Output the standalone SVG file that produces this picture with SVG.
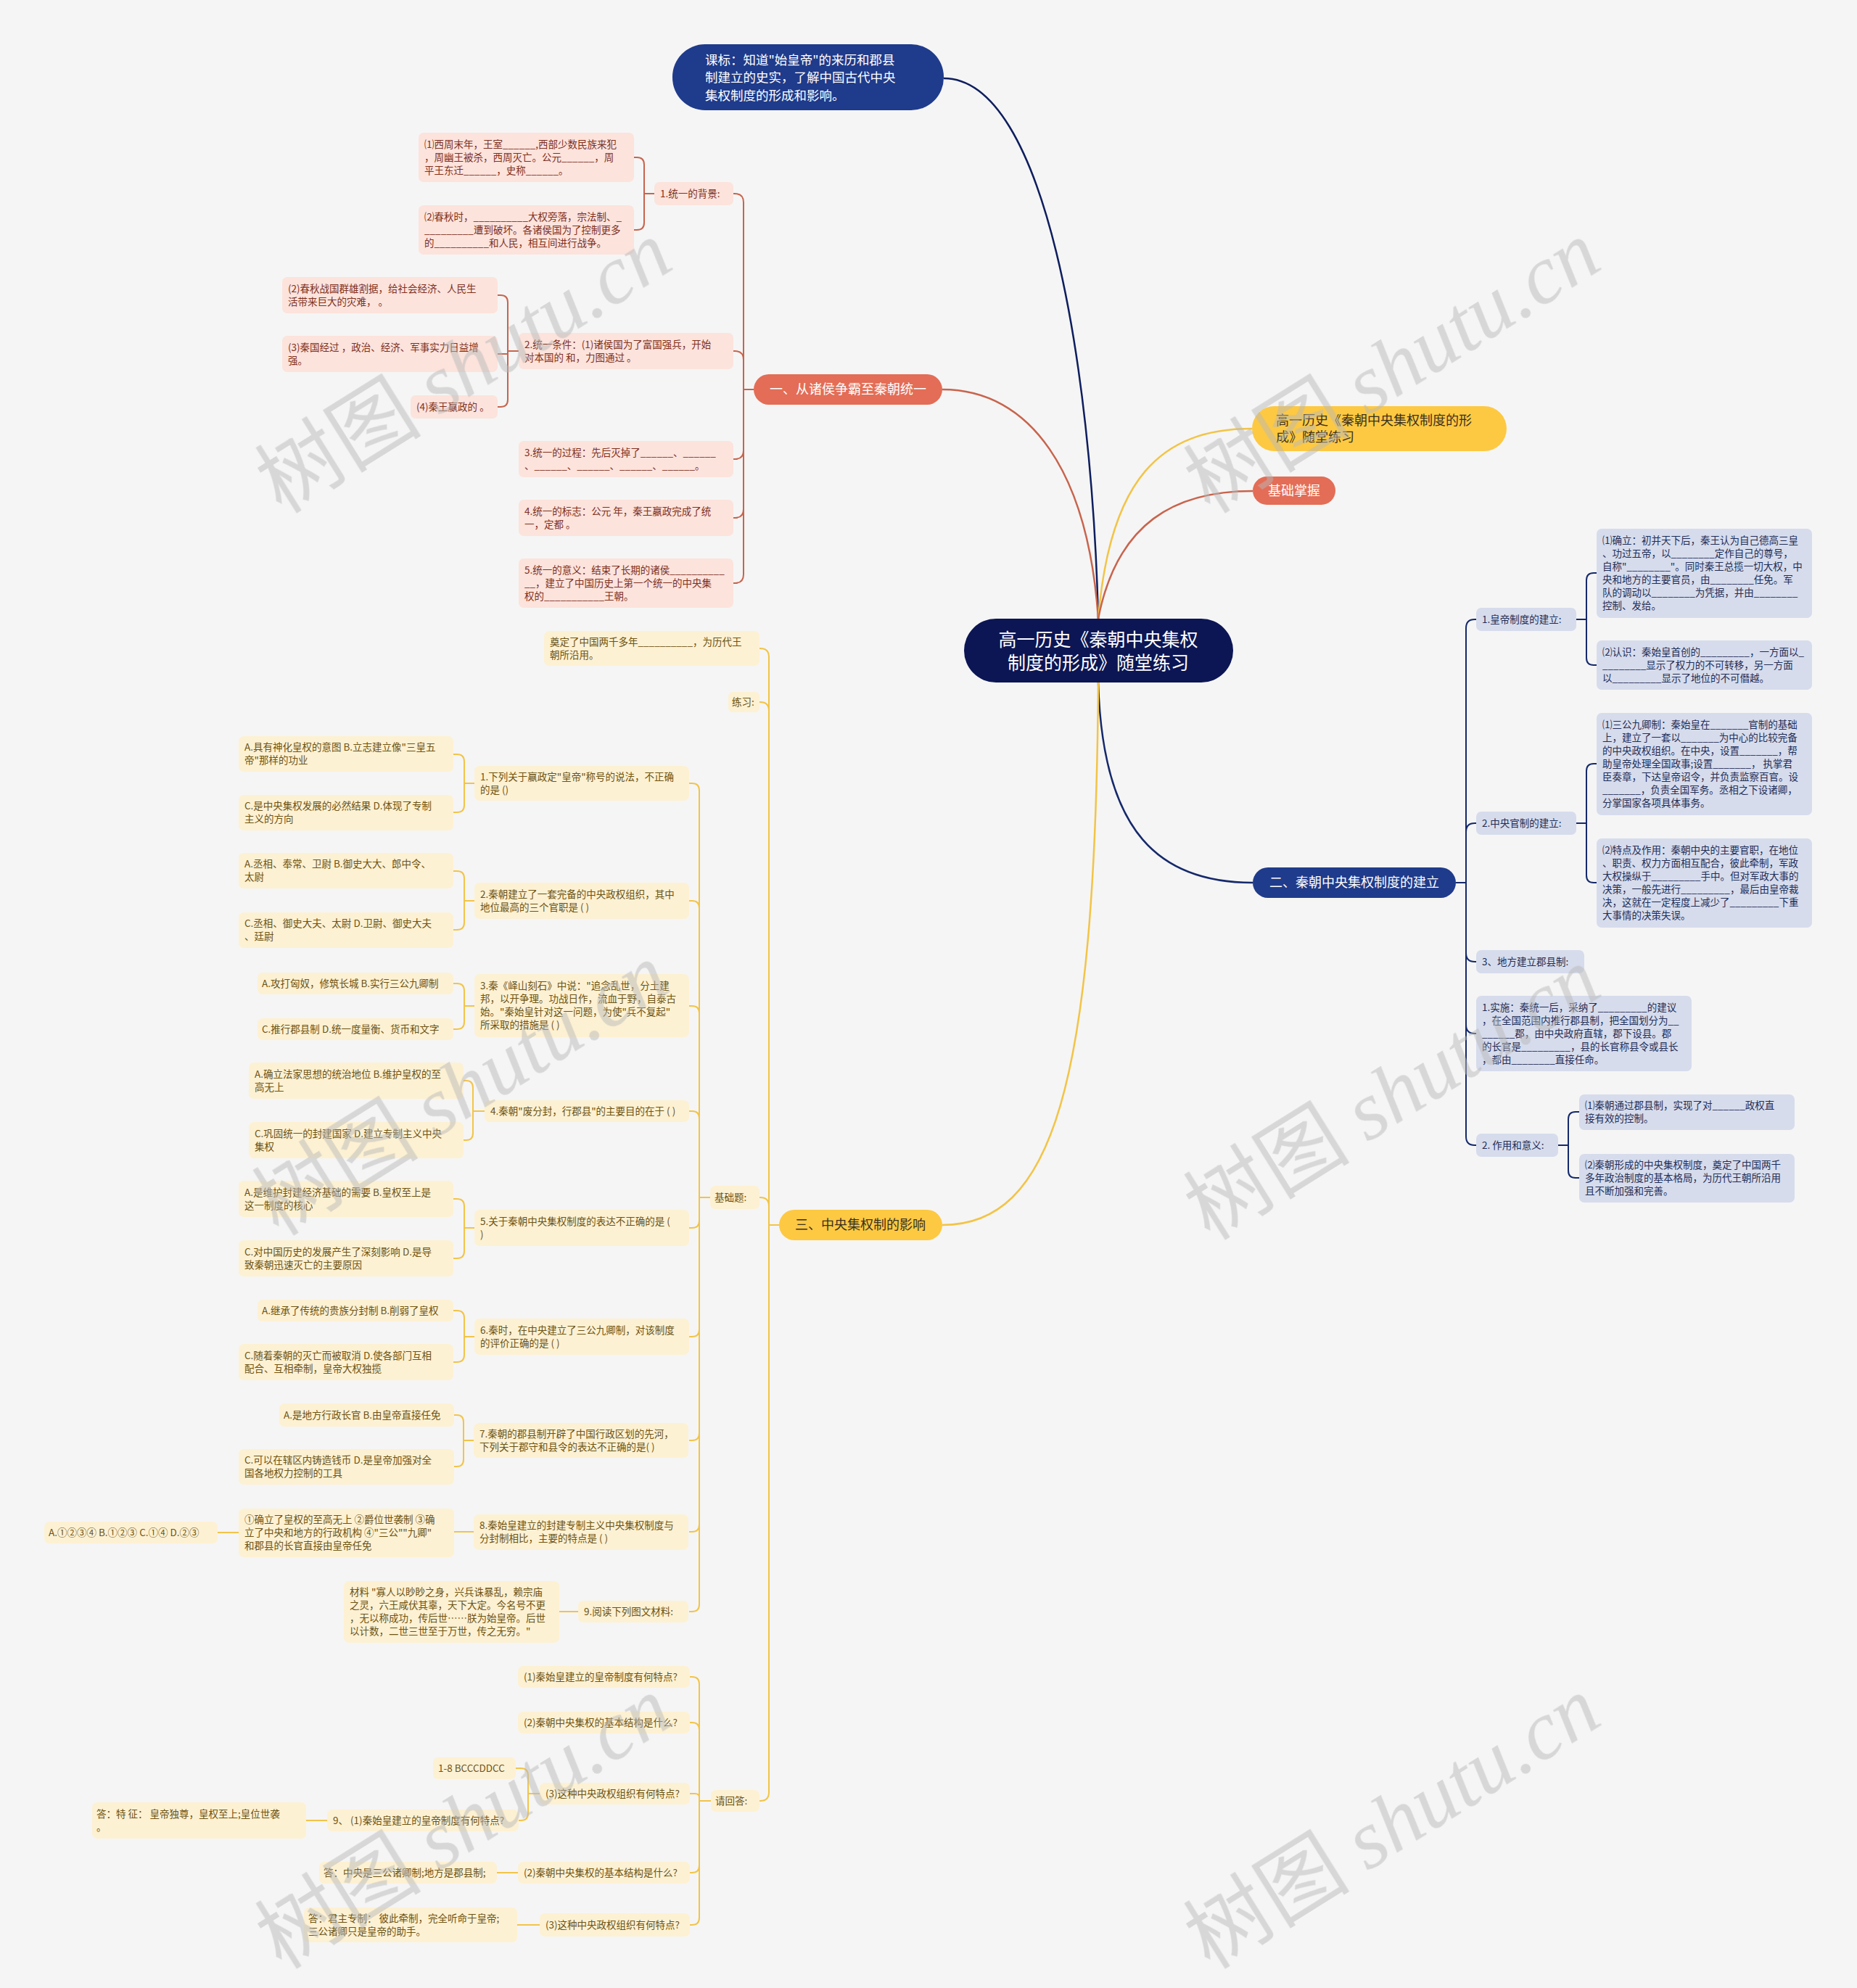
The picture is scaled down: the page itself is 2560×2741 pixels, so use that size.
<svg xmlns="http://www.w3.org/2000/svg" width="2560" height="2741" viewBox="0 0 2560 2741">
<style>
text{font-family:'Noto Sans CJK SC','Noto Sans',sans-serif;}
.t{font-size:13.5px}
.b1{fill:#fce3dc}.x1{fill:#7e301e}
.b2{fill:#d6dcec}.x2{fill:#1f2d57}
.b3{fill:#fdf1d3}.x3{fill:#6c5313}
.k1{fill:none;stroke:#c8644d;stroke-width:2}
.k2{fill:none;stroke:#15296b;stroke-width:2}
.k3{fill:none;stroke:#f2c447;stroke-width:2}
.m{fill:none;stroke-width:2.5}
.wm{font-size:115px;fill:#b9b9b9;opacity:0.5}
.big{font-size:18px}
</style>
<rect width="2560" height="2741" fill="#f5f5f5"/>

<g id="connectors">
<path class="m" stroke="#0e1e5e" d="M1301 108 C1440 108 1505 500 1514 853"/>
<path class="m" stroke="#c8644d" d="M1299 537 C1420 537 1500 650 1514 853"/>
<path class="m" stroke="#f2c447" d="M1514 853 C1530 660 1600 591 1726 591"/>
<path class="m" stroke="#c8644d" d="M1514 853 C1540 720 1620 677 1727 677"/>
<path class="m" stroke="#15296b" d="M1514 941 C1520 1150 1600 1217 1727 1217"/>
<path class="m" stroke="#f2c447" d="M1514 941 C1510 1500 1450 1689 1299 1689"/>
<!-- section 1 -->
<path class="k1" d="M1039 537 H1025 V279 Q1025 267 1013 267 H1011"/>
<path class="k1" d="M1039 537 H1025 V496 Q1025 484 1013 484 H1011"/>
<path class="k1" d="M1039 537 H1025 V621 Q1025 633 1013 633 H1011"/>
<path class="k1" d="M1039 537 H1025 V702 Q1025 714 1013 714 H1011"/>
<path class="k1" d="M1039 537 H1025 V792 Q1025 804 1013 804 H1011"/>
<path class="k1" d="M902 267 H888 V227 Q888 217 878 217 H874"/>
<path class="k1" d="M902 267 H888 V307 Q888 317 878 317 H874"/>
<path class="k1" d="M715 484 H700 V417 Q700 407 690 407 H686"/>
<path class="k1" d="M715 484 H700 V488 H686"/>
<path class="k1" d="M715 484 H700 V551 Q700 561 690 561 H686"/>
<!-- section 2 -->
<path class="k2" d="M2007 1217 H2021 V866 Q2021 854 2033 854 H2035"/>
<path class="k2" d="M2007 1217 H2021 V1147 Q2021 1135 2033 1135 H2035"/>
<path class="k2" d="M2007 1217 H2021 V1314 Q2021 1326 2033 1326 H2035"/>
<path class="k2" d="M2007 1217 H2021 V1413 Q2021 1425 2033 1425 H2035"/>
<path class="k2" d="M2007 1217 H2021 V1567 Q2021 1579 2033 1579 H2035"/>
<path class="k2" d="M2173 854 H2187 V800 Q2187 790 2197 790 H2201"/>
<path class="k2" d="M2173 854 H2187 V907 Q2187 917 2197 917 H2201"/>
<path class="k2" d="M2173 1135 H2187 V1063 Q2187 1053 2197 1053 H2201"/>
<path class="k2" d="M2173 1135 H2187 V1207 Q2187 1217 2197 1217 H2201"/>
<path class="k2" d="M2148 1579 H2162 V1543 Q2162 1533 2172 1533 H2177"/>
<path class="k2" d="M2148 1579 H2162 V1614 Q2162 1624 2172 1624 H2177"/>
<!-- section 3 -->
<path class="k3" d="M1074 1689 H1060 V906 Q1060 894 1048 894 H1047"/>
<path class="k3" d="M1074 1689 H1060 V980 Q1060 968 1048 968 H1047"/>
<path class="k3" d="M1074 1689 H1060 V1663 Q1060 1651 1048 1651 H1047"/>
<path class="k3" d="M1074 1689 H1060 V2471 Q1060 2483 1048 2483 H1047"/>
<path class="k3" d="M979 1651 H964 V1090 Q964 1080 954 1080 H950"/>
<path class="k3" d="M979 1651 H964 V1252 Q964 1242 954 1242 H950"/>
<path class="k3" d="M979 1651 H964 V1397 Q964 1387 954 1387 H950"/>
<path class="k3" d="M979 1651 H964 V1542 Q964 1532 954 1532 H950"/>
<path class="k3" d="M979 1651 H964 V1683 Q964 1693 954 1693 H950"/>
<path class="k3" d="M979 1651 H964 V1833 Q964 1843 954 1843 H950"/>
<path class="k3" d="M979 1651 H964 V1976 Q964 1986 954 1986 H950"/>
<path class="k3" d="M979 1651 H964 V2102 Q964 2112 954 2112 H950"/>
<path class="k3" d="M979 1651 H964 V2212 Q964 2222 954 2222 H950"/>
<path class="k3" d="M654 1080 H640 V1050 Q640 1040 630 1040 H625"/>
<path class="k3" d="M654 1080 H640 V1110 Q640 1120 630 1120 H625"/>
<path class="k3" d="M654 1242 H640 V1211 Q640 1201 630 1201 H625"/>
<path class="k3" d="M654 1242 H640 V1272 Q640 1282 630 1282 H625"/>
<path class="k3" d="M654 1387 H640 V1366 Q640 1356 630 1356 H625"/>
<path class="k3" d="M654 1387 H640 V1409 Q640 1419 630 1419 H625"/>
<path class="k3" d="M668 1532 H652 V1500 Q652 1490 643 1490 H639"/>
<path class="k3" d="M668 1532 H652 V1562 Q652 1572 643 1572 H639"/>
<path class="k3" d="M654 1693 H640 V1663 Q640 1653 630 1653 H625"/>
<path class="k3" d="M654 1693 H640 V1725 Q640 1735 630 1735 H625"/>
<path class="k3" d="M654 1843 H640 V1817 Q640 1807 630 1807 H625"/>
<path class="k3" d="M654 1843 H640 V1868 Q640 1878 630 1878 H625"/>
<path class="k3" d="M653 1986 H639 V1961 Q639 1951 630 1951 H626"/>
<path class="k3" d="M653 1986 H639 V2012 Q639 2022 630 2022 H626"/>
<path class="k3" d="M653 2112 H626"/>
<path class="k3" d="M329 2113 H300"/>
<path class="k3" d="M797 2222 H771"/>
<path class="k3" d="M980 2483 H964 V2322 Q964 2312 954 2312 H951"/>
<path class="k3" d="M980 2483 H964 V2385 Q964 2375 954 2375 H951"/>
<path class="k3" d="M980 2483 H964 V2478 Q964 2473 958 2473 H951"/>
<path class="k3" d="M980 2483 H964 V2572 Q964 2582 954 2582 H951"/>
<path class="k3" d="M980 2483 H964 V2644 Q964 2654 954 2654 H951"/>
<path class="k3" d="M744 2473 H728 V2448 Q728 2438 718 2438 H711"/>
<path class="k3" d="M744 2473 H728 V2500 Q728 2510 718 2510 H715"/>
<path class="k3" d="M451 2510 H422"/>
<path class="k3" d="M714 2582 H685"/>
<path class="k3" d="M744 2654 H713"/>
</g>

<!-- main nodes -->
<g id="center"><rect x="1329" y="853" width="371" height="88" rx="44" fill="#0c1654"/>
<text x="1514" y="891" font-size="25" fill="#fff" text-anchor="middle">高一历史《秦朝中央集权</text>
<text x="1514" y="923" font-size="25" fill="#fff" text-anchor="middle">制度的形成》随堂练习</text></g>
<g id="kebiao"><rect x="927" y="61" width="374" height="91" rx="45" fill="#1f3b8b"/>
<text x="972" y="89" font-size="17.5" fill="#fff">课标：知道"始皇帝"的来历和郡县</text>
<text x="972" y="113" font-size="17.5" fill="#fff">制建立的史实，了解中国古代中央</text>
<text x="972" y="138" font-size="17.5" fill="#fff">集权制度的形成和影响。</text></g>
<g id="sec1"><rect x="1039" y="516" width="260" height="42" rx="21" fill="#e36d56"/>
<text class="big" x="1169" y="543" fill="#fff" text-anchor="middle">一、从诸侯争霸至秦朝统一</text></g>
<g id="titleY"><rect x="1726" y="560" width="351" height="62" rx="31" fill="#fdc942"/>
<text class="big" x="1759" y="586" fill="#3a3020">高一历史《秦朝中央集权制度的形</text>
<text class="big" x="1759" y="609" fill="#3a3020">成》随堂练习</text></g>
<g id="jichu"><rect x="1727" y="657" width="114" height="39" rx="19.5" fill="#e36d56"/>
<text class="big" x="1784" y="683" fill="#fff" text-anchor="middle">基础掌握</text></g>
<g id="sec2"><rect x="1727" y="1196" width="280" height="42" rx="21" fill="#1f3b8b"/>
<text class="big" x="1867" y="1223" fill="#fff" text-anchor="middle">二、秦朝中央集权制度的建立</text></g>
<g id="sec3"><rect x="1074" y="1668" width="225" height="42" rx="21" fill="#fdc942"/>
<text class="big" x="1186" y="1695" fill="#3a3020" text-anchor="middle">三、中央集权制的影响</text></g>

<g class="t">
<!-- section 1 children -->
<g id="a1"><rect class="b1" x="902" y="251" width="109" height="32" rx="7"/><text class="x1" x="910" y="272">1.统一的背景:</text></g>
<g id="a1c1"><rect class="b1" x="577" y="183" width="297" height="68" rx="7"/><text class="x1" x="585" y="204">⑴西周末年，王室______,西部少数民族来犯</text><text class="x1" x="585" y="222">，周幽王被杀，西周灭亡。公元______，周</text><text class="x1" x="585" y="240">平王东迁______，史称______。</text></g>
<g id="a1c2"><rect class="b1" x="577" y="283" width="297" height="68" rx="7"/><text class="x1" x="585" y="304">⑵春秋时，__________大权旁落，宗法制、_</text><text class="x1" x="585" y="322">_________遭到破坏。各诸侯国为了控制更多</text><text class="x1" x="585" y="340">的__________和人民，相互间进行战争。</text></g>
<g id="a2"><rect class="b1" x="715" y="459" width="296" height="50" rx="7"/><text class="x1" x="723" y="480">2.统一条件：(1)诸侯国为了富国强兵，开始</text><text class="x1" x="723" y="498">对本国的 和，力图通过 。</text></g>
<g id="a2c1"><rect class="b1" x="389" y="382" width="297" height="50" rx="7"/><text class="x1" x="397" y="403">(2)春秋战国群雄割据，给社会经济、人民生</text><text class="x1" x="397" y="421">活带来巨大的灾难， 。</text></g>
<g id="a2c2"><rect class="b1" x="389" y="463" width="297" height="50" rx="7"/><text class="x1" x="397" y="484">(3)秦国经过 ，政治、经济、军事实力日益增</text><text class="x1" x="397" y="502">强。</text></g>
<g id="a2c3"><rect class="b1" x="566" y="545" width="120" height="32" rx="7"/><text class="x1" x="574" y="566">(4)秦王嬴政的 。</text></g>
<g id="a3"><rect class="b1" x="715" y="608" width="296" height="50" rx="7"/><text class="x1" x="723" y="629">3.统一的过程：先后灭掉了______、______</text><text class="x1" x="723" y="647">、______、______、______、______。</text></g>
<g id="a4"><rect class="b1" x="715" y="689" width="296" height="50" rx="7"/><text class="x1" x="723" y="710">4.统一的标志：公元 年，秦王嬴政完成了统</text><text class="x1" x="723" y="728">一，定都 。</text></g>
<g id="a5"><rect class="b1" x="715" y="770" width="296" height="68" rx="7"/><text class="x1" x="723" y="791">5.统一的意义：结束了长期的诸侯__________</text><text class="x1" x="723" y="809">__，建立了中国历史上第一个统一的中央集</text><text class="x1" x="723" y="827">权的___________王朝。</text></g>

<!-- section 2 children -->
<g id="b1"><rect class="b2" x="2035" y="838" width="138" height="32" rx="7"/><text class="x2" x="2043" y="859">1.皇帝制度的建立:</text></g>
<g id="b1c1"><rect class="b2" x="2201" y="729" width="297" height="123" rx="7"/><text class="x2" x="2209" y="750">⑴确立：初并天下后，秦王认为自己德高三皇</text><text class="x2" x="2209" y="768">、功过五帝，以________定作自己的尊号，</text><text class="x2" x="2209" y="786">自称"________"。同时秦王总揽一切大权，中</text><text class="x2" x="2209" y="804">央和地方的主要官员，由________任免。军</text><text class="x2" x="2209" y="822">队的调动以________为凭据，并由________</text><text class="x2" x="2209" y="840">控制、发给。</text></g>
<g id="b1c2"><rect class="b2" x="2201" y="883" width="297" height="68" rx="7"/><text class="x2" x="2209" y="904">⑵认识：秦始皇首创的_________，一方面以_</text><text class="x2" x="2209" y="922">________显示了权力的不可转移，另一方面</text><text class="x2" x="2209" y="940">以_________显示了地位的不可僭越。</text></g>
<g id="b2"><rect class="b2" x="2035" y="1119" width="138" height="32" rx="7"/><text class="x2" x="2043" y="1140">2.中央官制的建立:</text></g>
<g id="b2c1"><rect class="b2" x="2201" y="983" width="297" height="141" rx="7"/><text class="x2" x="2209" y="1004">⑴三公九卿制：秦始皇在_______官制的基础</text><text class="x2" x="2209" y="1022">上，建立了一套以_______为中心的比较完备</text><text class="x2" x="2209" y="1040">的中央政权组织。在中央，设置_______，帮</text><text class="x2" x="2209" y="1058">助皇帝处理全国政事;设置_______， 执掌君</text><text class="x2" x="2209" y="1076">臣奏章，下达皇帝诏令，并负责监察百官。设</text><text class="x2" x="2209" y="1094">_______，负责全国军务。丞相之下设诸卿，</text><text class="x2" x="2209" y="1112">分掌国家各项具体事务。</text></g>
<g id="b2c2"><rect class="b2" x="2201" y="1156" width="297" height="123" rx="7"/><text class="x2" x="2209" y="1177">⑵特点及作用：秦朝中央的主要官职，在地位</text><text class="x2" x="2209" y="1195">、职责、权力方面相互配合，彼此牵制，军政</text><text class="x2" x="2209" y="1213">大权操纵于_________手中。但对军政大事的</text><text class="x2" x="2209" y="1231">决策，一般先进行_________，最后由皇帝裁</text><text class="x2" x="2209" y="1249">决，这就在一定程度上减少了_________下重</text><text class="x2" x="2209" y="1267">大事情的决策失误。</text></g>
<g id="b3"><rect class="b2" x="2035" y="1310" width="149" height="32" rx="7"/><text class="x2" x="2043" y="1331">3、地方建立郡县制:</text></g>
<g id="b4"><rect class="b2" x="2035" y="1373" width="297" height="104" rx="7"/><text class="x2" x="2043" y="1394">1.实施：秦统一后，采纳了_________的建议</text><text class="x2" x="2043" y="1412">，在全国范围内推行郡县制，把全国划分为__</text><text class="x2" x="2043" y="1430">______郡，由中央政府直辖，郡下设县。郡</text><text class="x2" x="2043" y="1448">的长官是_________，县的长官称县令或县长</text><text class="x2" x="2043" y="1466">，都由________直接任命。</text></g>
<g id="b5"><rect class="b2" x="2035" y="1563" width="113" height="32" rx="7"/><text class="x2" x="2043" y="1584">2. 作用和意义:</text></g>
<g id="b5c1"><rect class="b2" x="2177" y="1509" width="297" height="49" rx="7"/><text class="x2" x="2185" y="1529">⑴秦朝通过郡县制，实现了对______政权直</text><text class="x2" x="2185" y="1547">接有效的控制。</text></g>
<g id="b5c2"><rect class="b2" x="2177" y="1591" width="297" height="67" rx="7"/><text class="x2" x="2185" y="1611">⑵秦朝形成的中央集权制度，奠定了中国两千</text><text class="x2" x="2185" y="1629">多年政治制度的基本格局，为历代王朝所沿用</text><text class="x2" x="2185" y="1647">且不断加强和完善。</text></g>

<!-- section 3 children -->
<g id="c0"><rect class="b3" x="750" y="870" width="297" height="48" rx="7"/><text class="x3" x="758" y="890">奠定了中国两千多年__________，为历代王</text><text class="x3" x="758" y="908">朝所沿用。</text></g>
<g id="c1"><rect class="b3" x="1004" y="954" width="43" height="28" rx="6"/><text class="x3" x="1009" y="973">练习:</text></g>
<g id="c2"><rect class="b3" x="979" y="1635" width="68" height="32" rx="7"/><text class="x3" x="985" y="1656">基础题:</text></g>
<g id="c3"><rect class="b3" x="980" y="2468" width="67" height="30" rx="7"/><text class="x3" x="986" y="2488">请回答:</text></g>

<g id="q1"><rect class="b3" x="654" y="1056" width="296" height="48" rx="7"/><text class="x3" x="662" y="1076">1.下列关于嬴政定"皇帝"称号的说法，不正确</text><text class="x3" x="662" y="1094">的是 ()</text></g>
<g id="q1a"><rect class="b3" x="329" y="1015" width="296" height="49" rx="7"/><text class="x3" x="337" y="1035">A.具有神化皇权的意图 B.立志建立像"三皇五</text><text class="x3" x="337" y="1053">帝"那样的功业</text></g>
<g id="q1c"><rect class="b3" x="329" y="1096" width="296" height="49" rx="7"/><text class="x3" x="337" y="1116">C.是中央集权发展的必然结果 D.体现了专制</text><text class="x3" x="337" y="1134">主义的方向</text></g>

<g id="q2"><rect class="b3" x="654" y="1217" width="296" height="50" rx="7"/><text class="x3" x="662" y="1238">2.秦朝建立了一套完备的中央政权组织，其中</text><text class="x3" x="662" y="1256">地位最高的三个官职是 ( )</text></g>
<g id="q2a"><rect class="b3" x="329" y="1176" width="296" height="49" rx="7"/><text class="x3" x="337" y="1196">A.丞相、奉常、卫尉 B.御史大大、郎中令、</text><text class="x3" x="337" y="1214">太尉</text></g>
<g id="q2c"><rect class="b3" x="329" y="1258" width="296" height="49" rx="7"/><text class="x3" x="337" y="1278">C.丞相、御史大夫、太尉 D.卫尉、御史大夫</text><text class="x3" x="337" y="1296">、廷尉</text></g>

<g id="q3"><rect class="b3" x="654" y="1343" width="296" height="87" rx="7"/><text class="x3" x="662" y="1364">3.秦《峄山刻石》中说："追念乱世，分土建</text><text class="x3" x="662" y="1382">邦，以开争理。功战日作，流血于野，自泰古</text><text class="x3" x="662" y="1400">始。"秦始皇针对这一问题，为使"兵不复起"</text><text class="x3" x="662" y="1418">所采取的措施是 ( )</text></g>
<g id="q3a"><rect class="b3" x="355" y="1341" width="270" height="30" rx="7"/><text class="x3" x="361" y="1361">A.攻打匈奴，修筑长城 B.实行三公九卿制</text></g>
<g id="q3c"><rect class="b3" x="355" y="1404" width="270" height="30" rx="7"/><text class="x3" x="361" y="1424">C.推行郡县制 D.统一度量衡、货币和文字</text></g>

<g id="q4"><rect class="b3" x="668" y="1517" width="282" height="30" rx="7"/><text class="x3" x="676" y="1537">4.秦朝"废分封，行郡县"的主要目的在于 ( )</text></g>
<g id="q4a"><rect class="b3" x="343" y="1465" width="296" height="50" rx="7"/><text class="x3" x="351" y="1486">A.确立法家思想的统治地位 B.维护皇权的至</text><text class="x3" x="351" y="1504">高无上</text></g>
<g id="q4c"><rect class="b3" x="343" y="1547" width="296" height="50" rx="7"/><text class="x3" x="351" y="1568">C.巩固统一的封建国家 D.建立专制主义中央</text><text class="x3" x="351" y="1586">集权</text></g>

<g id="q5"><rect class="b3" x="654" y="1668" width="296" height="50" rx="7"/><text class="x3" x="662" y="1689">5.关于秦朝中央集权制度的表达不正确的是 (</text><text class="x3" x="662" y="1707">)</text></g>
<g id="q5a"><rect class="b3" x="329" y="1628" width="296" height="50" rx="7"/><text class="x3" x="337" y="1649">A.是维护封建经济基础的需要 B.皇权至上是</text><text class="x3" x="337" y="1667">这一制度的核心</text></g>
<g id="q5c"><rect class="b3" x="329" y="1710" width="296" height="50" rx="7"/><text class="x3" x="337" y="1731">C.对中国历史的发展产生了深刻影响 D.是导</text><text class="x3" x="337" y="1749">致秦朝迅速灭亡的主要原因</text></g>

<g id="q6"><rect class="b3" x="654" y="1818" width="296" height="50" rx="7"/><text class="x3" x="662" y="1839">6.秦时，在中央建立了三公九卿制，对该制度</text><text class="x3" x="662" y="1857">的评价正确的是 ( )</text></g>
<g id="q6a"><rect class="b3" x="355" y="1792" width="270" height="30" rx="7"/><text class="x3" x="361" y="1812">A.继承了传统的贵族分封制 B.削弱了皇权</text></g>
<g id="q6c"><rect class="b3" x="329" y="1853" width="296" height="50" rx="7"/><text class="x3" x="337" y="1874">C.随着秦朝的灭亡而被取消 D.使各部门互相</text><text class="x3" x="337" y="1892">配合、互相牵制，皇帝大权独揽</text></g>

<g id="q7"><rect class="b3" x="653" y="1962" width="296" height="48" rx="7"/><text class="x3" x="661" y="1982">7.秦朝的郡县制开辟了中国行政区划的先河，</text><text class="x3" x="661" y="2000">下列关于郡守和县令的表达不正确的是( )</text></g>
<g id="q7a"><rect class="b3" x="385" y="1935" width="241" height="32" rx="7"/><text class="x3" x="391" y="1956">A.是地方行政长官 B.由皇帝直接任免</text></g>
<g id="q7c"><rect class="b3" x="329" y="1998" width="297" height="49" rx="7"/><text class="x3" x="337" y="2018">C.可以在辖区内铸造钱币 D.是皇帝加强对全</text><text class="x3" x="337" y="2036">国各地权力控制的工具</text></g>

<g id="q8"><rect class="b3" x="653" y="2088" width="296" height="49" rx="7"/><text class="x3" x="661" y="2108">8.秦始皇建立的封建专制主义中央集权制度与</text><text class="x3" x="661" y="2126">分封制相比，主要的特点是 ( )</text></g>
<g id="q8c"><rect class="b3" x="329" y="2080" width="297" height="67" rx="7"/><text class="x3" x="337" y="2100">①确立了皇权的至高无上 ②爵位世袭制 ③确</text><text class="x3" x="337" y="2118">立了中央和地方的行政机构 ④"三公""九卿"</text><text class="x3" x="337" y="2136">和郡县的长官直接由皇帝任免</text></g>
<g id="q8a"><rect class="b3" x="61" y="2098" width="239" height="30" rx="7"/><text class="x3" x="67" y="2118">A.①②③④ B.①②③ C.①④  D.②③</text></g>

<g id="q9"><rect class="b3" x="797" y="2207" width="152" height="30" rx="7"/><text class="x3" x="805" y="2227">9.阅读下列图文材料:</text></g>
<g id="q9m"><rect class="b3" x="474" y="2180" width="297" height="85" rx="7"/><text class="x3" x="482" y="2200">材料 "寡人以眇眇之身，兴兵诛暴乱，赖宗庙</text><text class="x3" x="482" y="2218">之灵，六王咸伏其辜，天下大定。今名号不更</text><text class="x3" x="482" y="2236">，无以称成功，传后世……朕为始皇帝。后世</text><text class="x3" x="482" y="2254">以计数，二世三世至于万世，传之无穷。"</text></g>

<g id="r1"><rect class="b3" x="714" y="2297" width="237" height="30" rx="7"/><text class="x3" x="722" y="2317">(1)秦始皇建立的皇帝制度有何特点?</text></g>
<g id="r2"><rect class="b3" x="714" y="2360" width="237" height="30" rx="7"/><text class="x3" x="722" y="2380">(2)秦朝中央集权的基本结构是什么?</text></g>
<g id="r3"><rect class="b3" x="744" y="2458" width="207" height="30" rx="7"/><text class="x3" x="752" y="2478">(3)这种中央政权组织有何特点?</text></g>
<g id="r3a"><rect class="b3" x="597" y="2423" width="114" height="30" rx="7"/><text class="x3" x="604" y="2443">1-8 BCCCDDCC</text></g>
<g id="r3b"><rect class="b3" x="451" y="2495" width="264" height="30" rx="7"/><text class="x3" x="459" y="2515">9、 (1)秦始皇建立的皇帝制度有何特点?</text></g>
<g id="r3ans"><rect class="b3" x="127" y="2485" width="295" height="50" rx="7"/><text class="x3" x="133" y="2506">答：特 征： 皇帝独尊，皇权至上;皇位世袭</text><text class="x3" x="133" y="2524">。</text></g>
<g id="r4"><rect class="b3" x="714" y="2567" width="237" height="30" rx="7"/><text class="x3" x="722" y="2587">(2)秦朝中央集权的基本结构是什么?</text></g>
<g id="r4a"><rect class="b3" x="440" y="2567" width="245" height="30" rx="7"/><text class="x3" x="446" y="2587">答：中央是三公诸卿制;地方是郡县制;</text></g>
<g id="r5"><rect class="b3" x="744" y="2638" width="207" height="32" rx="7"/><text class="x3" x="752" y="2659">(3)这种中央政权组织有何特点?</text></g>
<g id="r5a"><rect class="b3" x="419" y="2630" width="294" height="48" rx="7"/><text class="x3" x="425" y="2650">答：君主专制： 彼此牵制，完全听命于皇帝;</text><text class="x3" x="425" y="2668">三公诸卿只是皇帝的助手。</text></g>
</g>

<g id="watermarks" class="wm" text-anchor="middle">
<text transform="translate(640 507) rotate(-32)" dy="38">树图 <tspan font-family="'Liberation Serif',serif" font-style="italic">shutu.cn</tspan></text>
<text transform="translate(1920 507) rotate(-32)" dy="38">树图 <tspan font-family="'Liberation Serif',serif" font-style="italic">shutu.cn</tspan></text>
<text transform="translate(636 1503) rotate(-32)" dy="38">树图 <tspan font-family="'Liberation Serif',serif" font-style="italic">shutu.cn</tspan></text>
<text transform="translate(1920 1509) rotate(-32)" dy="38">树图 <tspan font-family="'Liberation Serif',serif" font-style="italic">shutu.cn</tspan></text>
<text transform="translate(640 2514) rotate(-32)" dy="38">树图 <tspan font-family="'Liberation Serif',serif" font-style="italic">shutu.cn</tspan></text>
<text transform="translate(1920 2514) rotate(-32)" dy="38">树图 <tspan font-family="'Liberation Serif',serif" font-style="italic">shutu.cn</tspan></text>
</g>
</svg>
